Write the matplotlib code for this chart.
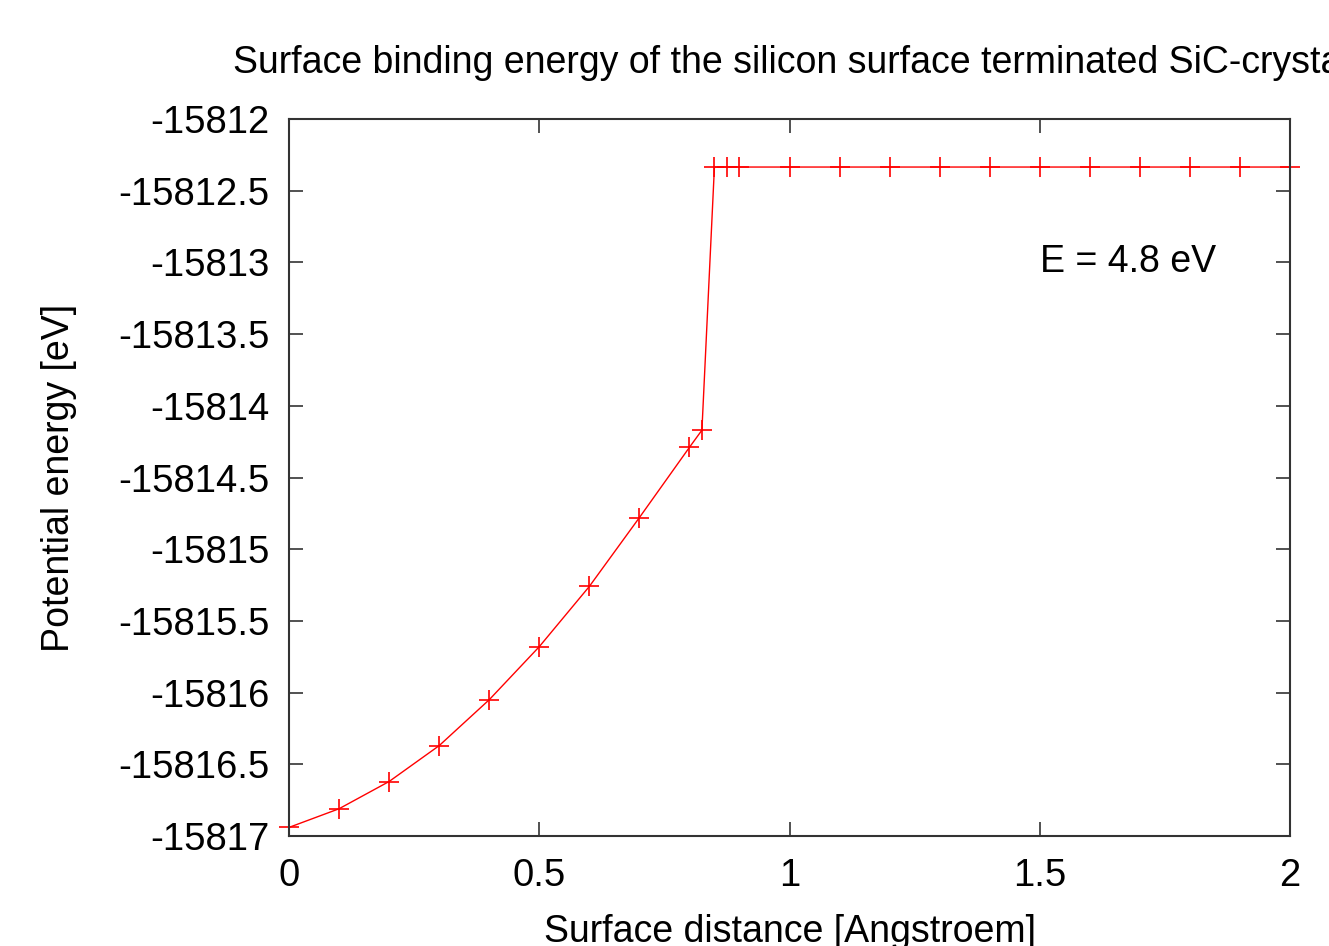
import matplotlib
matplotlib.use("Agg")
import matplotlib.pyplot as plt

# surface distance [Angstroem] and potential energy [eV]
distance = [0.0, 0.1, 0.2, 0.3, 0.4, 0.5, 0.6, 0.7, 0.8, 0.825,
            0.85, 0.875, 0.9, 1.0, 1.1, 1.2, 1.3, 1.4, 1.5, 1.6,
            1.7, 1.8, 1.9, 2.0]
energy = [-15816.94, -15816.81, -15816.62, -15816.37, -15816.05, -15815.68,
          -15815.26, -15814.78, -15814.29, -15814.17,
          -15812.335, -15812.335, -15812.335, -15812.335, -15812.335,
          -15812.335, -15812.335, -15812.335, -15812.335, -15812.335,
          -15812.335, -15812.335, -15812.335, -15812.335]

xticks = [0, 0.5, 1, 1.5, 2]
xtick_labels = ["0", "0.5", "1", "1.5", "2"]
yticks = [-15817, -15816.5, -15816, -15815.5, -15815, -15814.5,
          -15814, -15813.5, -15813, -15812.5, -15812]
ytick_labels = ["-15817", "-15816.5", "-15816", "-15815.5", "-15815",
                "-15814.5", "-15814", "-15813.5", "-15813", "-15812.5",
                "-15812"]

plt.rcParams["font.family"] = ["Liberation Sans", "DejaVu Sans"]

fig = plt.figure(figsize=(13.29, 9.46), dpi=100)
ax = fig.add_axes([289 / 1329, 1 - 836 / 946, (1290 - 289) / 1329, (836 - 119) / 946])

ax.plot(distance, energy, color="red", linewidth=1.0, marker="+",
        markersize=14, markeredgewidth=1.2, clip_on=False)

ax.set_xlim(0, 2)
ax.set_ylim(-15817, -15812)
ax.set_xticks(xticks)
ax.set_xticklabels(xtick_labels)
ax.set_yticks(yticks)
ax.set_yticklabels(ytick_labels)
ax.tick_params(direction="in", length=10, width=1.2, top=True, right=True,
               labelsize=27.5, colors="#333333", labelcolor="black")
ax.tick_params(axis="x", pad=16)
ax.tick_params(axis="y", pad=14)
for s in ax.spines.values():
    s.set_linewidth(1.5)
    s.set_color("#333333")

ax.set_xlabel("Surface distance [Angstroem]", fontsize=27, labelpad=14)
ax.set_ylabel("Potential energy [eV]", fontsize=27, labelpad=30)

ax.text(1.5, -15813, "E = 4.8 eV", fontsize=27, ha="left", va="center")

fig.text(233 / 1329, 1 - 63 / 946,
         "Surface binding energy of the silicon surface terminated SiC-crystal",
         fontsize=27, ha="left", va="center")

fig.savefig("out.png", dpi=100)
